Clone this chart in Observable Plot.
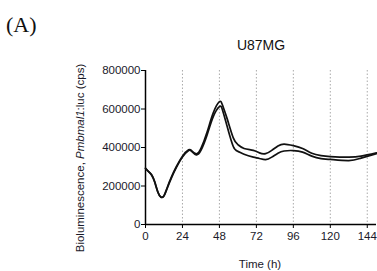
<!DOCTYPE html>
<html><head><meta charset="utf-8">
<script src="https://cdn.jsdelivr.net/npm/d3@7"></script>
<script src="https://cdn.jsdelivr.net/npm/@observablehq/plot@0.6"></script>
<style>body{margin:0;background:#fff}</style>
</head><body><div id="chart"></div>
<script>
const timeA = [0,2,4,6,8,10,12,14,17,20,24,28,30,33,36,40,44,48,50,53,57,60,64,70,74,78,82,86,90,96,102,108,114,120,132,140,150];
const seriesA = [292000,275000,258000,222000,170000,143000,150000,190000,250000,300000,355000,388000,383000,367000,395000,480000,580000,638000,620000,550000,450000,415000,395000,385000,372000,368000,385000,408000,418000,410000,395000,370000,358000,353000,350000,355000,372000];
const seriesB = [292000,275000,256000,219000,168000,142000,148000,186000,245000,295000,350000,384000,380000,362000,385000,465000,560000,612000,595000,510000,405000,380000,365000,350000,343000,337000,350000,370000,382000,384000,376000,355000,342000,338000,332000,345000,368000];
const xTicks = [0,24,48,72,96,120,144];
const yTicks = [0,200000,400000,600000,800000];

const data = [];
timeA.forEach((t,i)=>{ data.push({t, v: seriesA[i], s:"A"}); data.push({t, v: seriesB[i], s:"B"}); });

const font = "Liberation Sans, Arial, sans-serif";
const plot = Plot.plot({
  width: 377, height: 271,
  marginLeft: 145, marginRight: 1, marginTop: 70, marginBottom: 47,
  style: {fontFamily: font, fontSize: "11.5px", color: "#1a1a2a", background: "#fff"},
  x: {domain: [0,150], ticks: xTicks, label: null, tickSize: 4, tickPadding: 3},
  y: {domain: [0,800000], ticks: yTicks, label: null, tickFormat: d => String(d), tickSize: 4, tickPadding: 1},
  marks: [
    Plot.ruleX(xTicks.slice(1), {stroke: "#aaa", strokeDasharray: "1.5,2", strokeWidth: 1}),
    Plot.axisX({ticks: xTicks, tickSize: 4, tickPadding: 3, stroke: "#000", label: null}),
    Plot.axisY({ticks: yTicks, tickSize: 4, tickPadding: 1, stroke: "#000", label: null, tickFormat: d => String(d)}),
    Plot.ruleX([0], {stroke: "#000", strokeWidth: 1.5}),
    Plot.ruleY([0], {stroke: "#000", strokeWidth: 1.5}),
    Plot.line(data, {x: "t", y: "v", z: "s", stroke: "#111", strokeWidth: 1.7, curve: "natural"})
  ]
});
document.getElementById("chart").appendChild(plot);
const svg = d3.select(plot);
svg.append("text").attr("x", 261).attr("y", 50).attr("text-anchor","middle")
  .attr("font-family", font).attr("font-size", 14).attr("fill","#111").text("U87MG");
svg.append("text").attr("x", 6).attr("y", 32).attr("text-anchor","start")
  .attr("font-family", "Liberation Serif, DejaVu Serif, serif").attr("font-size", 22).attr("fill","#111").text("(A)");
svg.append("text").attr("x", 260).attr("y", 268).attr("text-anchor","middle")
  .attr("font-family", font).attr("font-size", 11.5).attr("fill","#1a1a2a").text("Time (h)");
const yl = svg.append("text").attr("transform","translate(84,158) rotate(-90)").attr("text-anchor","middle")
  .attr("font-family", font).attr("font-size", 11.5).attr("fill","#1a1a2a");
yl.append("tspan").text("Bioluminescence, ");
yl.append("tspan").attr("font-style","italic").text("Pmbmal1");
yl.append("tspan").text(":luc (cps)");
</script></body></html>
